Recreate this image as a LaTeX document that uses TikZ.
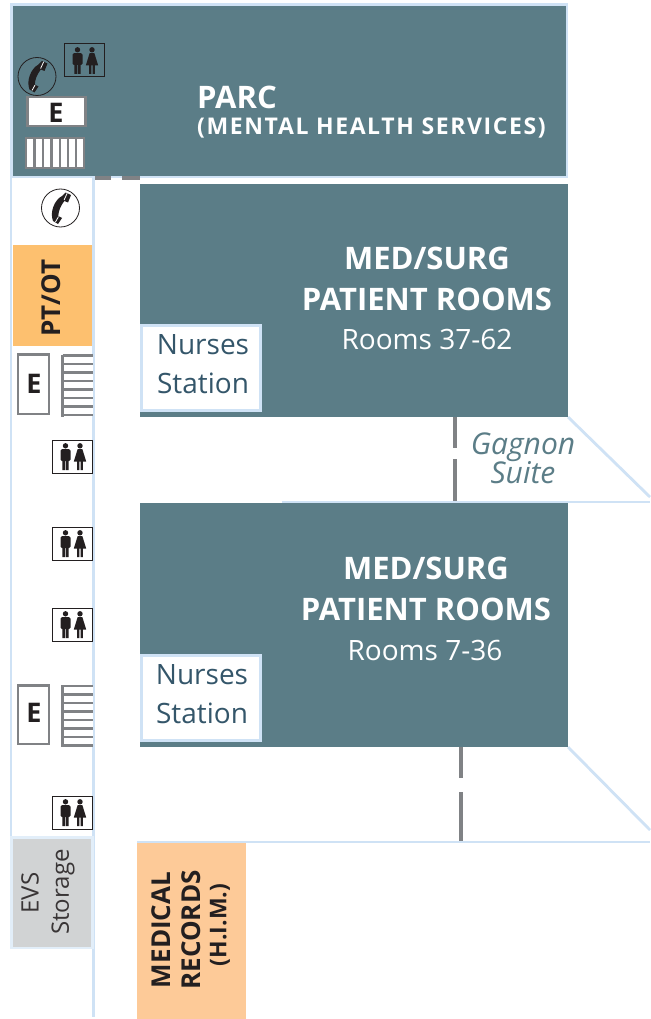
\documentclass[tikz,border=0pt]{standalone}
\usepackage{fontspec}
\setmainfont{Open Sans}
\definecolor{teal}{HTML}{5B7D87}
\definecolor{wall}{HTML}{CFE2F5}
\definecolor{gr}{HTML}{808285}
\definecolor{ink}{HTML}{231F20}
\definecolor{nst}{HTML}{34566A}
\definecolor{ptot}{HTML}{FDC06F}
\definecolor{evs}{HTML}{D1D3D4}
\definecolor{med}{HTML}{FDCA98}
\newcommand{\peoplefig}{%
    \fill[ink] (13.5,5.8) circle (2.7);
    \fill[ink,rounded corners=1.4pt] (8.5,9.2) rectangle (18.5,21);
    \fill[ink] (10.4,15) rectangle (13.2,30) (13.8,15) rectangle (16.6,30);
    \fill[ink] (28,5.8) circle (2.7);
    \fill[ink] (25.6,9.2) -- (30.4,9.2) -- (34.2,21.5) -- (21.8,21.5) -- cycle;
    \fill[ink] (25.1,21) rectangle (27.3,30) (28.7,21) rectangle (30.9,30);
}
\tikzset{
  room/.style={fill=teal,draw=none},
  wallline/.style={draw=wall,line width=2.8pt},
  door/.style={draw=gr,line width=4pt},
  big/.style={text=white,font=\fontsize{31}{31}\selectfont\bfseries,inner sep=0pt},
  sub/.style={text=white,font=\fontsize{28}{28}\selectfont,inner sep=0pt},
  nurse/.style={text=nst,font=\fontsize{28}{28}\selectfont,inner sep=0pt},
  nursebox/.style={fill=white,draw=wall,line width=3pt},
  elev/.style={fill=white,draw=gr,line width=2.4pt},
  eletter/.style={text=ink,font=\fontsize{27}{27}\selectfont\bfseries,inner sep=0pt},
  gag/.style={text=teal,font=\fontsize{30}{30}\selectfont\itshape,inner sep=0pt},
  wcopen/.pic={
    \draw[ink,line width=1pt] (0,0) rectangle (40,33);
    \peoplefig
  },
  wc/.pic={
    \draw[ink,line width=1pt,fill=white] (0,0) rectangle (40,33);
    \peoplefig
  },
  phone/.pic={
    \draw[ink,line width=.8pt,fill=none] (0,0) circle (19);
    \fill[ink] (5,-15.5) -- (10.5,-13) -- (7.5,-5.5) -- (3.8,-7)
      .. controls (0,-2) and (-2,3) .. (-2.2,8) -- (1.5,10) -- (-2.5,16) -- (-7.5,13)
      .. controls (-11,4) and (-6,-8) .. (1.5,-12) -- cycle;
    \draw[white,line width=.8pt] (3.6,-8) -- (6.6,-14.6) (-2,8.6) -- (-5,14);
  },
  stairsv/.pic={
    \fill[white] (0,0) rectangle (30,60);
    \foreach \yy in {0,8.5,...,60} \draw[gr,line width=2.2pt] (0,\yy) -- (30,\yy);
    \draw[gr,line width=2.2pt] (0,-1) -- (0,61);
  },
}
\begin{document}
\begin{tikzpicture}[x=1pt,y=-1pt]
\useasboundingbox (0,0) rectangle (650,1019);
\fill[white] (0,0) rectangle (650,1019);
% walls
\draw[wallline] (11,176) -- (11,837);
\draw[wallline] (93.5,176) -- (93.5,1017);
\draw[wallline] (282,502) -- (650,502);
\draw[wallline] (137,842) -- (650,842);
\draw[wallline] (568,417) -- (650,497);
\draw[wallline] (568,747) -- (650,830);
% PARC
\draw[room,draw=wall,line width=2.8pt] (11.5,4.5) rectangle (567,177);
\draw[door] (95,178) -- (111,178) (122,178) -- (140,178);
% wing rooms
\fill[room] (140,184) rectangle (568,417);
\fill[room] (140,503) rectangle (568,747);
\draw[nursebox] (141.5,325) rectangle (260,410);
\draw[nursebox] (141.5,655) rectangle (260,740);
% doors
\draw[door] (455,417) -- (455,448) (455,459) -- (455,501);
\draw[door] (461,747) -- (461,778) (461,792) -- (461,841);
% coloured rooms
\fill[ptot] (13,245) rectangle (92,346);
\draw[draw=wall!60,line width=2.4pt,fill=evs] (11.5,837.5) rectangle (92.5,948);
\fill[med] (137,843) rectangle (246,1019);
% PARC icons
\pic at (64,44) {wcopen};
\pic at (37,76.5) {phone};
\draw[elev] (27.5,97) rectangle (85.5,126);
\node[eletter] (e0) at (56,112.5) {E};
\fill[white] (26,138) rectangle (84,168);
\draw[gr,line width=2.2pt] (26,138) rectangle (84,168);
\foreach \xx in {34.5,43,51.5,60,68,76} \draw[gr,line width=2.2pt] (\xx,138) -- (\xx,168);
% corridor icons
\pic at (60.5,208) {phone};
\draw[elev] (18,354.5) rectangle (49,414);
\node[eletter] (e1) at (34,384) {E};
\pic at (62.5,355.5) {stairsv};
\pic at (52,440) {wc};
\pic at (52,527) {wc};
\pic at (52,608) {wc};
\draw[elev] (18,685.5) rectangle (49,744);
\node[eletter] (e2) at (34,713) {E};
\pic at (62.5,686) {stairsv};
\pic at (52,796) {wc};
% labels
\node[big,anchor=west] (parc) at (197,97.5) {PARC};
\node[text=white,font=\fontsize{23}{23}\selectfont\bfseries\addfontfeatures{LetterSpace=7},inner sep=0pt,anchor=west] (parc2) at (197,127.5) {(MENTAL HEALTH SERVICES)};
\node[big] (ms1a) at (427,258) {MED/SURG};
\node[big] (ms1b) at (427,299) {PATIENT ROOMS};
\node[sub] (ms1c) at (427,339) {Rooms 37-62};
\node[nurse] (n1a) at (203,345) {Nurses};
\node[nurse] (n1b) at (203,383) {Station};
\node[gag] (g1) at (523,447) {Gagnon};
\node[gag] (g2) at (523,473) {Suite};
\node[big] (ms2a) at (426,568) {MED/SURG};
\node[big] (ms2b) at (426,609) {PATIENT ROOMS};
\node[sub] (ms2c) at (425,650) {Rooms 7-36};
\node[nurse] (n2a) at (202,675) {Nurses};
\node[nurse] (n2b) at (202,713) {Station};
\node[rotate=90,text=ink,font=\fontsize{26}{26}\selectfont\bfseries,inner sep=0pt] (pt) at (51,298) {PT/OT};
\node[rotate=90,text=ink!90,font=\fontsize{24}{24}\selectfont,inner sep=0pt] (ev1) at (30,893) {EVS};
\node[rotate=90,text=ink!90,font=\fontsize{24}{24}\selectfont,inner sep=0pt] (ev2) at (63,892) {Storage};
\node[rotate=90,text=ink,font=\fontsize{26}{26}\selectfont\bfseries,inner sep=0pt] (m1) at (161,930) {MEDICAL};
\node[rotate=90,text=ink,font=\fontsize{26}{26}\selectfont\bfseries,inner sep=0pt] (m2) at (191,930) {RECORDS};
\node[rotate=90,text=ink,font=\fontsize{23}{23}\selectfont\bfseries,inner sep=0pt] (m3) at (220,925) {(H.I.M.)};
\end{tikzpicture}
\end{document}
